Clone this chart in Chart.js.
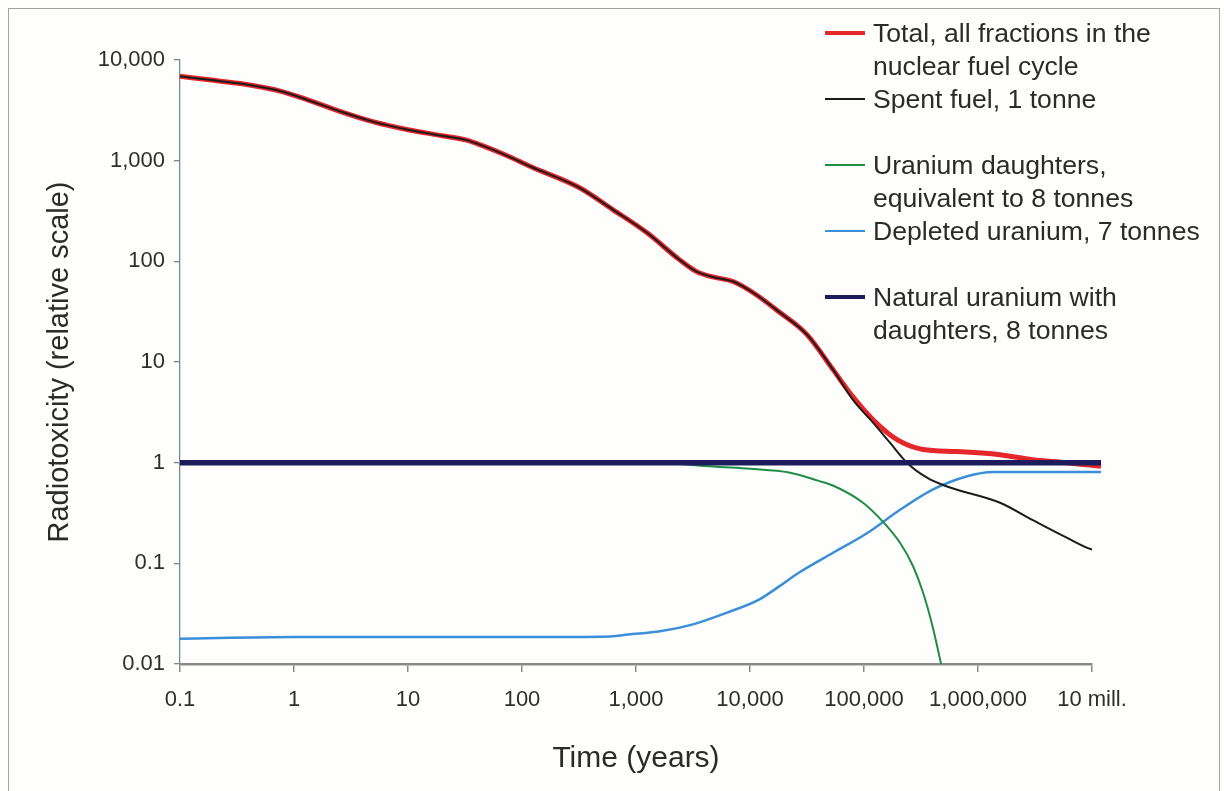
<!DOCTYPE html>
<html>
<head>
<meta charset="utf-8">
<title>Radiotoxicity over time</title>
<script src="https://cdn.jsdelivr.net/npm/chart.js@4.4.1/dist/chart.umd.min.js"></script>
<style>
  body { margin: 0; background: #fff; }
  #wrap { position: relative; width: 1224px; height: 791px; overflow: hidden; background: #fefefd;
          font-family: "Liberation Sans", Arial, sans-serif; color: #2b2b2b; }
  #frame { position: absolute; left: 8px; top: 8px; width: 1210px; height: 820px; border: 1.5px solid #a2a2a2; }
  #chart { position: absolute; left: 0; top: 0; }
  .key { position: absolute; left: 825px; width: 40px; }
  .txt { position: absolute; left: 873px; font-size: 26.6px; line-height: 33px; white-space: nowrap; }
</style>
</head>
<body>
<div id="wrap">
  <div id="frame"></div>
  <canvas id="chart" width="1224" height="791"></canvas>
  <div id="legend"></div>
</div>
<script>
const FONT = '"Liberation Sans", Arial, sans-serif';

// axis ticks (decades only)
const xTicks = [0.1, 1, 10, 100, 1000, 10000, 100000, 1000000, 10000000];
const xTickLabels = ['0.1', '1', '10', '100', '1,000', '10,000', '100,000', '1,000,000', '10 mill.'];
const yTicks = [0.01, 0.1, 1, 10, 100, 1000, 10000];
const yTickLabels = ['0.01', '0.1', '1', '10', '100', '1,000', '10,000'];

// total, all fractions
const totalYears = [0.1, 0.18, 0.35, 0.8, 1.3, 2.6, 5, 10, 20, 32, 45, 70, 120, 320, 630, 1250, 2400, 3400, 4700, 7100, 10600, 18300, 31600, 53500, 80000, 120000, 195000, 330000, 650000, 1560000, 3000000, 6000000, 12000000];
const totalValues = [6900, 6350, 5800, 4830, 4030, 3060, 2430, 2030, 1770, 1610, 1410, 1150, 870, 538, 325, 192, 104, 79, 70, 63, 49, 31, 18.7, 8.4, 4.5, 2.67, 1.69, 1.35, 1.29, 1.2, 1.07, 1.0, 0.92];

// spent fuel, 1 tonne
const spentYears = [0.1, 0.18, 0.35, 0.8, 1.3, 2.6, 5, 10, 20, 32, 45, 70, 120, 320, 630, 1250, 2400, 3400, 4700, 7100, 10600, 18300, 31600, 53500, 80000, 120000, 169000, 238000, 357000, 535000, 1560000, 3000000, 6000000, 10000000, 12000000];
const spentValues = [6900, 6350, 5800, 4830, 4030, 3060, 2430, 2030, 1770, 1610, 1410, 1150, 870, 538, 325, 192, 104, 79, 70, 63, 49, 31, 18.7, 8.4, 4.2, 2.5, 1.58, 1.0, 0.71, 0.58, 0.40, 0.27, 0.18, 0.137, 0.133];

// uranium daughters
const daughterYears = [0.1, 1000, 2000, 5100, 10000, 22000, 40000, 54000, 98000, 149000, 207000, 270000, 330000, 400000, 470000, 520000];
const daughterValues = [1, 1, 0.98, 0.91, 0.87, 0.80, 0.66, 0.59, 0.40, 0.254, 0.16, 0.093, 0.051, 0.0235, 0.0105, 0.006];

// depleted uranium, 7 tonnes
const depletedYears = [0.1, 1, 10, 100, 600, 850, 1630, 3100, 6300, 12000, 18000, 27000, 54000, 107000, 207000, 400000, 790000, 1350000, 3000000, 12000000];
const depletedValues = [0.0178, 0.0185, 0.0185, 0.0185, 0.0188, 0.0196, 0.0211, 0.0246, 0.0324, 0.0436, 0.059, 0.081, 0.128, 0.2, 0.34, 0.54, 0.73, 0.81, 0.81, 0.81];

// natural uranium with daughters, 8 tonnes
const naturalYears = [0.1, 12000000];
const naturalValues = [1, 1];

const pts = (xs, ys) => xs.map((x, i) => ({ x: x, y: ys[i] }));

const series = [
  { lines: ['Total, all fractions in the', 'nuclear fuel cycle'], data: pts(totalYears, totalValues), color: '#e5262b', width: 5, key: 4, order: 4, row: 0 },
  { lines: ['Spent fuel, 1 tonne'], data: pts(spentYears, spentValues), color: '#1c1c1c', width: 2, key: 1.6, order: 1, row: 2 },
  { lines: ['Uranium daughters,', 'equivalent to 8 tonnes'], data: pts(daughterYears, daughterValues), color: '#1f8d45', width: 2, key: 1.6, order: 2, row: 4 },
  { lines: ['Depleted uranium, 7 tonnes'], data: pts(depletedYears, depletedValues), color: '#3b8fd8', width: 2.5, key: 2, order: 3, row: 6 },
  { lines: ['Natural uranium with', 'daughters, 8 tonnes'], data: pts(naturalYears, naturalValues), color: '#1d1d5e', width: 5.5, key: 4, order: 0, row: 8 },
];

// legend block on the right
const legendEl = document.getElementById('legend');
series.forEach(s => {
  const cy = 33 + s.row * 33;
  legendEl.innerHTML += `<div class="key" style="top:${cy - s.key / 2}px;height:${s.key}px;background:${s.color}"></div>
    <div class="txt" style="top:${cy - 16.5}px">${s.lines.join('<br>')}</div>`;
});

new Chart(document.getElementById('chart'), {
  type: 'line',
  data: {
    datasets: series.map(s => ({
      label: s.lines.join(' '),
      data: s.data,
      borderColor: s.color,
      backgroundColor: s.color,
      borderWidth: s.width,
      pointRadius: 0,
      fill: false,
      cubicInterpolationMode: 'monotone',
      order: s.order,
      clip: { left: 4, top: 10, right: 12, bottom: 0 }
    }))
  },
  options: {
    responsive: false,
    animation: false,
    events: [],
    layout: { padding: { top: 60, right: 132, left: 0, bottom: 0 } },
    plugins: { legend: { display: false }, tooltip: { enabled: false } },
    scales: {
      x: {
        type: 'logarithmic', min: 0.1, max: 10000000,
        afterBuildTicks: s => { s.ticks = xTicks.map(v => ({ value: v })); },
        afterFit: s => { s.height = 127; },
        ticks: { autoSkip: false, maxRotation: 0, padding: 15, color: '#2e2e2e', font: { family: FONT, size: 22 },
                 callback: (v, i) => xTickLabels[i] },
        grid: { drawOnChartArea: false, tickLength: 8, color: '#8a8a8a', lineWidth: 1.5 },
        border: { color: '#8a8a8a', width: 2.5 },
        title: { display: true, text: 'Time (years)', color: '#2b2b2b', font: { family: FONT, size: 30 },
                 padding: { top: 0, bottom: 14 } }
      },
      y: {
        type: 'logarithmic', min: 0.01, max: 10000,
        afterBuildTicks: s => { s.ticks = yTicks.map(v => ({ value: v })); },
        afterFit: s => { s.width = 180; },
        ticks: { autoSkip: false, padding: 9, color: '#2e2e2e', font: { family: FONT, size: 22 },
                 callback: (v, i) => yTickLabels[i] },
        grid: { drawOnChartArea: false, tickLength: 6, color: '#7c8699', lineWidth: 1.3 },
        border: { color: '#7c8699', width: 1.3 },
        title: { display: true, text: 'Radiotoxicity (relative scale)', color: '#2b2b2b', font: { family: FONT, size: 29 },
                 padding: { top: 43, bottom: 0 } }
      }
    }
  }
});
</script>
</body>
</html>
